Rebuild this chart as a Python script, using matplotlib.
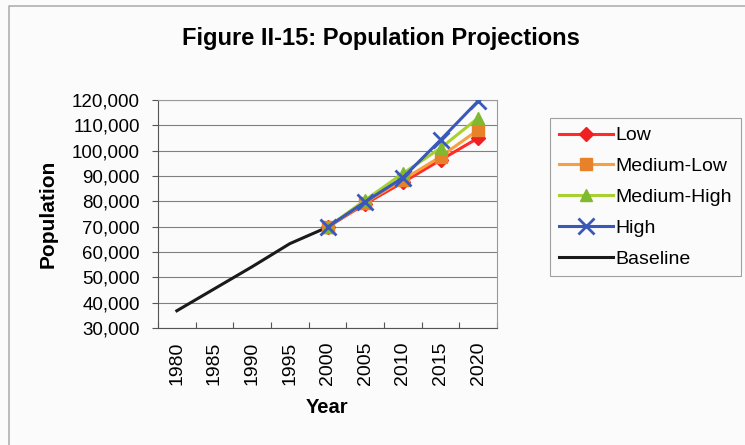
import matplotlib.pyplot as plt
from matplotlib.lines import Line2D
from matplotlib.ticker import FuncFormatter

plt.rcParams['font.family'] = ['Liberation Sans', 'DejaVu Sans']

# Data tahun (kategori) dan proyeksi penduduk
years = ['1980', '1985', '1990', '1995', '2000', '2005', '2010', '2015', '2020']
baseline = [36800, 45500, 54200, 63300, 69800]
low = [69800, 79000, 87500, 96300, 105000]
medium_low = [69800, 79500, 88500, 97600, 108200]
medium_high = [69800, 80500, 91000, 101000, 112900]
high = [69800, 79800, 89300, 104200, 119600]

x_base = list(range(0, 5))   # 1980-2000
x_proj = list(range(4, 9))   # 2000-2020

fig = plt.figure(figsize=(7.45, 4.45), dpi=100)
fig.patch.set_facecolor('#fbfbfb')
# garis tepi kiri dan atas area chart
fig.lines.append(Line2D([9 / 745, 9 / 745, 1], [0, 1 - 6 / 445, 1 - 6 / 445],
                        transform=fig.transFigure, color='#b0b0b0', linewidth=1.2))

ax = fig.add_axes([158 / 745, 1 - 328 / 445, (497 - 158) / 745, (328 - 100) / 445])
ax.set_facecolor('#fbfbfb')

ax.plot(x_proj, low, color='#ff2a2a', marker='D', markersize=7, linewidth=2.2,
        markerfacecolor='#f02020', markeredgecolor='#f02020', label='Low', zorder=3)
ax.plot(x_proj, medium_low, color='#f7a040', marker='s', markersize=8, linewidth=2.2,
        markerfacecolor='#e8822a', markeredgecolor='#e8822a', label='Medium-Low', zorder=4)
ax.plot(x_proj, medium_high, color='#a8d030', marker='^', markersize=9, linewidth=2.2,
        markerfacecolor='#80b830', markeredgecolor='#80b830', label='Medium-High', zorder=5)
ax.plot(x_proj, high, color='#3a58b8', marker='x', markersize=11, markeredgewidth=2,
        linewidth=2.2, label='High', zorder=6)
ax.plot(x_base, baseline, color='#1a1a1a', linewidth=2.2, label='Baseline', zorder=2)

ax.set_xlim(-0.5, 8.5)
ax.set_ylim(30000, 120000)
ax.set_yticks(range(30000, 120001, 10000))
ax.yaxis.set_major_formatter(FuncFormatter(lambda v, p: f'{int(v):,}'))
ax.set_xticks([i - 0.5 for i in range(10)], minor=False)
ax.set_xticklabels([])
ax.set_xticks(range(9), minor=True)
ax.set_xticklabels(years, minor=True, rotation=90, fontsize=14)
ax.tick_params(axis='x', which='minor', length=0, pad=10)
ax.tick_params(axis='x', which='major', length=4, direction='in', color='#555555')
ax.tick_params(axis='y', length=4, direction='out', color='#555555', labelsize=13.5, pad=9)

ax.grid(axis='y', color='#808080', linewidth=0.8)
ax.set_axisbelow(True)
for side in ['top', 'right']:
    ax.spines[side].set_color('#9a9a9a')
for side in ['left', 'bottom']:
    ax.spines[side].set_color('#555555')

ax.set_ylabel('Population', fontsize=15, fontweight='bold', labelpad=10)
ax.set_xlabel('Year', fontsize=14.5, fontweight='bold', labelpad=9)
fig.text(381 / 745, 1 - 38 / 445, 'Figure II-15: Population Projections', ha='center', va='center',
         fontsize=17, fontweight='bold')

leg = fig.legend(loc='upper left', bbox_to_anchor=(550 / 745, 1 - 118 / 445), fontsize=14,
                 frameon=True, fancybox=False, edgecolor='#888888', handlelength=2.8,
                 handletextpad=0.12, labelspacing=0.68, borderpad=0.45, borderaxespad=0)
leg.get_frame().set_linewidth(0.8)
leg.get_frame().set_facecolor('#fbfbfb')

fig.savefig('out.png', dpi=100, facecolor=fig.get_facecolor())
